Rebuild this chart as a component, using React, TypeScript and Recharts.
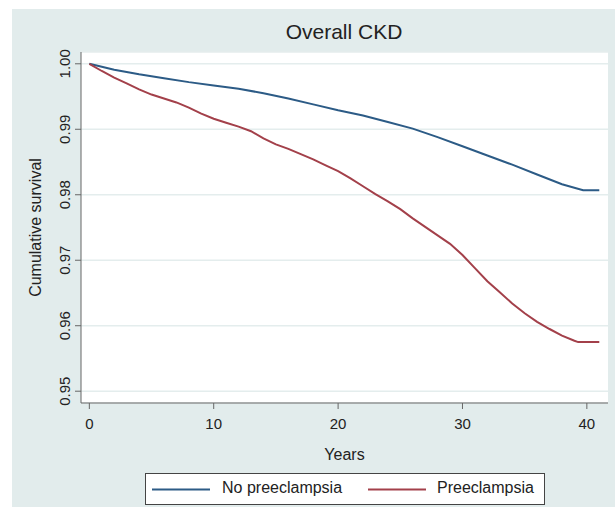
import { LineChart, Line, XAxis, YAxis, CartesianGrid, Legend } from "recharts";

const blueYears = [0, 2, 4, 6, 8, 10, 12, 14, 16, 18, 20, 22, 24, 26, 28, 30, 32, 34, 36, 38, 39.7, 41];
const blueSurvival = [
  1.0, 0.9991, 0.9984, 0.9978, 0.9972, 0.9967, 0.9962, 0.9955, 0.9947, 0.9938, 0.9929, 0.9921, 0.9911,
  0.9901, 0.9888, 0.9874, 0.986, 0.9846, 0.9831, 0.9816, 0.9807, 0.9807,
];

const redYears = [
  0, 1, 2, 3, 4, 5, 6, 7, 8, 9, 10, 11, 12, 13, 14, 15, 16, 17, 18, 19, 20, 21, 22, 23, 24, 25, 26, 27, 28, 29,
  30, 31, 32, 33, 34, 35, 36, 37, 38, 39, 39.3, 41,
];
const redSurvival = [
  1.0, 0.9989, 0.9979, 0.997, 0.9961, 0.9953, 0.9947, 0.9941, 0.9933, 0.9924, 0.9916, 0.991, 0.9904, 0.9897,
  0.9886, 0.9877, 0.987, 0.9862, 0.9854, 0.9845, 0.9836, 0.9825, 0.9813, 0.9801, 0.979, 0.9778, 0.9764, 0.9751,
  0.9738, 0.9725, 0.9708, 0.9688, 0.9668, 0.9651, 0.9634, 0.9619, 0.9606, 0.9595, 0.9585, 0.9577, 0.9575, 0.9575,
];

const xTicks = [0, 10, 20, 30, 40];
const yTicks = [0.95, 0.96, 0.97, 0.98, 0.99, 1.0];

const blueData = blueYears.map((year, i) => ({ year, survival: blueSurvival[i] }));
const redData = redYears.map((year, i) => ({ year, survival: redSurvival[i] }));

const FONT = "'Liberation Sans Narrow', 'Liberation Sans', Arial, sans-serif";
const TEXT = "#222";
const AXIS = "#666";

function YTick({ x, y, payload }: any) {
  return (
    <text
      x={x}
      y={y}
      transform={`rotate(-90 ${x} ${y})`}
      textAnchor="middle"
      fontSize={15}
      fill={TEXT}
      fontFamily={FONT}
    >
      {Number(payload.value).toFixed(2)}
    </text>
  );
}

function LegendBox({ payload }: any) {
  const pos = [
    { line: 6, text: 76 },
    { line: 222, text: 291 },
  ];
  return (
    <div
      style={{
        position: "relative",
        width: 398,
        height: 30,
        background: "#fff",
        border: "1px solid #444",
        fontFamily: FONT,
        fontSize: 16,
        color: TEXT,
      }}
    >
      {(payload || []).map((p: any, i: number) => (
        <div key={p.value}>
          <svg style={{ position: "absolute", left: pos[i].line, top: 14 }} width={58} height={3}>
            <line x1={0} y1={1.5} x2={58} y2={1.5} stroke={p.color} strokeWidth={2} />
          </svg>
          <span style={{ position: "absolute", left: pos[i].text, top: 5, whiteSpace: "nowrap" }}>{p.value}</span>
        </div>
      ))}
    </div>
  );
}

export default function App() {
  return (
    <div style={{ position: "absolute", left: 0, top: 0, width: 615, height: 507, background: "#fff" }}>
      <div style={{ position: "absolute", left: 12, top: 9, right: 0, bottom: 0, background: "#e2ecec" }} />
      <div
        style={{
          position: "absolute",
          left: 0,
          top: 20,
          width: 688,
          textAlign: "center",
          fontFamily: FONT,
          fontSize: 21,
          color: TEXT,
        }}
      >
        Overall CKD
      </div>
      <div style={{ position: "absolute", left: 0, top: 0 }}>
        <LineChart width={615} height={507} margin={{ top: 52, right: 7, bottom: 44, left: 0 }}>
          <CartesianGrid vertical={false} stroke="#e4eded" strokeWidth={1.5} fill="#fff" />
          <XAxis
            type="number"
            dataKey="year"
            domain={[-0.67, 41.7]}
            ticks={xTicks}
            allowDataOverflow
            height={60}
            tickSize={6}
            tickMargin={9}
            stroke={AXIS}
            tick={{ fontSize: 15, fill: TEXT, fontFamily: FONT }}
            label={{ value: "Years", position: "insideTop", offset: 46, fontSize: 16, fill: TEXT, fontFamily: FONT }}
          />
          <YAxis
            type="number"
            dataKey="survival"
            domain={[0.9482, 1.0018]}
            ticks={yTicks}
            allowDataOverflow
            width={81}
            tickSize={6}
            tickMargin={5}
            stroke={AXIS}
            tick={<YTick />}
            label={{
              value: "Cumulative survival",
              angle: -90,
              position: "insideLeft",
              offset: 35,
              textAnchor: "middle",
              fontSize: 16,
              fill: TEXT,
              fontFamily: FONT,
            }}
          />
          <Legend
            layout="horizontal"
            verticalAlign="middle"
            align="center"
            content={<LegendBox />}
            wrapperStyle={{ left: 145, top: 473, width: 400, height: 32 }}
          />
          <Line
            data={blueData}
            dataKey="survival"
            name="No preeclampsia"
            stroke="#2c5b86"
            strokeWidth={2}
            dot={false}
            isAnimationActive={false}
          />
          <Line
            data={redData}
            dataKey="survival"
            name="Preeclampsia"
            stroke="#a3404a"
            strokeWidth={2}
            dot={false}
            isAnimationActive={false}
          />
        </LineChart>
      </div>
    </div>
  );
}
